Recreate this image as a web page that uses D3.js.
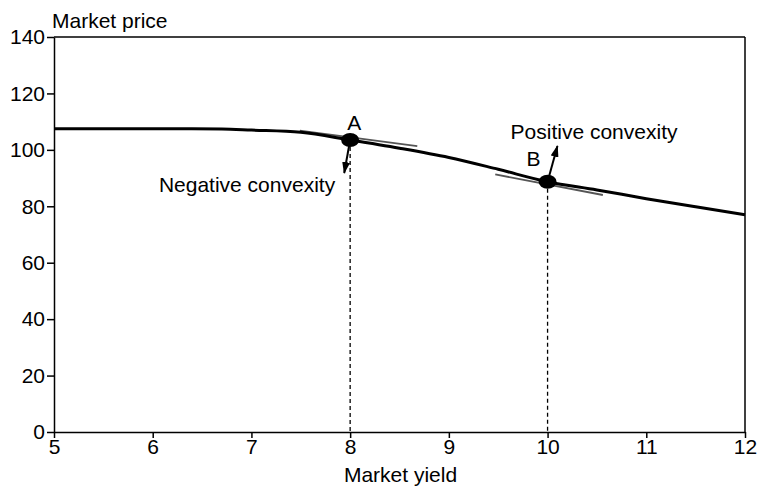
<!DOCTYPE html>
<html lang="en">
<head>
  <meta charset="UTF-8">
  <title>Market price vs market yield</title>
  <script src="https://d3js.org/d3.v7.min.js"></script>
  <style>
    body {
      margin: 0;
      background: #ffffff;
      font-family: "Liberation Sans", Arial, Helvetica, sans-serif;
    }
    svg { display: block; }
    .axis path, .axis line { stroke: #000; stroke-width: 1.5px; }
    .axis text { font-size: 21px; fill: #000; font-family: "Liberation Sans", Arial, sans-serif; }
    .label { font-size: 21px; fill: #000; }
  </style>
</head>
<body>
<div id="chart"></div>
<script>
  // price/yield curve
  const yields = [5, 6, 6.7, 7, 7.5, 8, 8.5, 9, 9.5, 10, 10.5, 11, 11.5, 12];
  const prices = [107.5, 107.5, 107.4, 107, 106.2, 103.5, 100.6, 97.3, 93.1, 88.7, 85.8, 82.7, 79.8, 77];

  // marked points
  const pointNames = ["A", "B"];
  const pointYields = [8, 10];
  const pointPrices = [103.5, 88.7];

  // tangent segments [x0, y0, x1, y1]
  const tangentA = [7.49, 106.8, 8.68, 101.3];
  const tangentB = [9.47, 91.3, 10.56, 84.0];

  // convexity arrows, tip positions
  const arrowTipYields = [7.94, 10.1];
  const arrowTipPrices = [91.8, 101.4];
  const arrowLabels = ["Negative convexity", "Positive convexity"];

  const xTicks = [5, 6, 7, 8, 9, 10, 11, 12];
  const yTicks = [0, 20, 40, 60, 80, 100, 120, 140];

  const width = 762, height = 487;
  const margin = { top: 37, right: 17, bottom: 55, left: 54 };

  const svg = d3.select("#chart").append("svg")
    .attr("width", width)
    .attr("height", height);

  const x = d3.scaleLinear().domain([5, 12]).range([margin.left, width - margin.right]);
  const y = d3.scaleLinear().domain([0, 140]).range([height - margin.bottom, margin.top]);

  svg.append("defs").append("marker")
    .attr("id", "head")
    .attr("viewBox", "0 0 12 8")
    .attr("refX", 11)
    .attr("refY", 4)
    .attr("markerWidth", 12)
    .attr("markerHeight", 8)
    .attr("markerUnits", "userSpaceOnUse")
    .attr("orient", "auto")
    .append("path")
    .attr("d", "M0,0 L12,4 L0,8 Z")
    .attr("fill", "#000");

  // frame: top and right
  svg.append("line")
    .attr("x1", x(5)).attr("x2", x(12))
    .attr("y1", y(140)).attr("y2", y(140))
    .attr("stroke", "#000").attr("stroke-width", 1.5);
  svg.append("line")
    .attr("x1", x(12)).attr("x2", x(12))
    .attr("y1", y(140)).attr("y2", y(0))
    .attr("stroke", "#000").attr("stroke-width", 1.5);

  svg.append("g")
    .attr("class", "axis")
    .attr("transform", `translate(0,${y(0)})`)
    .call(d3.axisBottom(x).tickValues(xTicks).tickFormat(d3.format("d"))
      .tickSize(6).tickPadding(1).tickSizeOuter(0))
    .call(g => g.select(".domain").attr("stroke-width", 2.5).attr("stroke", "#333"));

  svg.append("g")
    .attr("class", "axis")
    .attr("transform", `translate(${x(5)},0)`)
    .call(d3.axisLeft(y).tickValues(yTicks).tickFormat(d3.format("d"))
      .tickSize(7).tickPadding(2).tickSizeOuter(0));

  // axis titles
  svg.append("text")
    .attr("class", "label")
    .attr("x", margin.left - 2)
    .attr("y", 28)
    .text("Market price");

  svg.append("text")
    .attr("class", "label")
    .attr("x", (x(5) + x(12)) / 2 + 1)
    .attr("y", 482)
    .attr("text-anchor", "middle")
    .text("Market yield");

  // dashed drop lines
  svg.selectAll(".drop")
    .data(pointYields)
    .enter().append("line")
    .attr("class", "drop")
    .attr("x1", d => x(d)).attr("x2", d => x(d))
    .attr("y1", (d, i) => y(pointPrices[i]))
    .attr("y2", y(0))
    .attr("stroke", "#000")
    .attr("stroke-width", 1.3)
    .attr("stroke-dasharray", "4,3");

  // tangents
  svg.selectAll(".tangent")
    .data([tangentA, tangentB])
    .enter().append("line")
    .attr("class", "tangent")
    .attr("x1", d => x(d[0])).attr("y1", d => y(d[1]))
    .attr("x2", d => x(d[2])).attr("y2", d => y(d[3]))
    .attr("stroke", "#555")
    .attr("stroke-width", 1.8);

  // price curve
  const line = d3.line()
    .x(d => x(d[0]))
    .y(d => y(d[1]))
    .curve(d3.curveMonotoneX);

  svg.append("path")
    .datum(yields.map((d, i) => [d, prices[i]]))
    .attr("d", line)
    .attr("fill", "none")
    .attr("stroke", "#000")
    .attr("stroke-width", 3);

  // convexity arrows
  svg.selectAll(".arrow")
    .data(pointYields)
    .enter().append("line")
    .attr("class", "arrow")
    .attr("x1", d => x(d)).attr("y1", (d, i) => y(pointPrices[i]))
    .attr("x2", (d, i) => x(arrowTipYields[i])).attr("y2", (d, i) => y(arrowTipPrices[i]))
    .attr("stroke", "#000")
    .attr("stroke-width", 2)
    .attr("marker-end", "url(#head)");

  // dots
  svg.selectAll(".dot")
    .data(pointYields)
    .enter().append("ellipse")
    .attr("class", "dot")
    .attr("cx", d => x(d))
    .attr("cy", (d, i) => y(pointPrices[i]))
    .attr("rx", 9)
    .attr("ry", 7)
    .attr("fill", "#000");

  // point names
  const nameOffsets = [[4, -10], [-14, -16]];
  svg.selectAll(".pname")
    .data(pointNames)
    .enter().append("text")
    .attr("class", "label")
    .attr("x", (d, i) => x(pointYields[i]) + nameOffsets[i][0])
    .attr("y", (d, i) => y(pointPrices[i]) + nameOffsets[i][1])
    .attr("text-anchor", "middle")
    .text(d => d);

  // convexity labels
  svg.append("text")
    .attr("class", "label")
    .attr("x", x(pointYields[0]) - 15)
    .attr("y", y(pointPrices[0]) + 52)
    .attr("text-anchor", "end")
    .text(arrowLabels[0]);

  svg.append("text")
    .attr("class", "label")
    .attr("x", x(pointYields[1]) - 37)
    .attr("y", y(pointPrices[1]) - 43)
    .text(arrowLabels[1]);
</script>
</body>
</html>
